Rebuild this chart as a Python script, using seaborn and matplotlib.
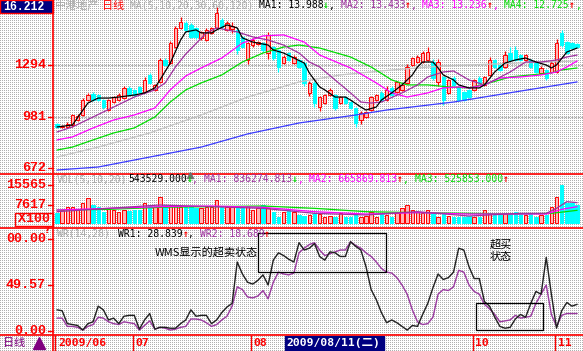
"""
Daily K-line chart with volume and WR panels, Chinese trading-software look
"""
import numpy as np
import matplotlib
matplotlib.use('Agg')
import matplotlib.pyplot as plt
from matplotlib.patches import Rectangle
from matplotlib.transforms import blended_transform_factory
import seaborn as sns

sns.set_style('white')
plt.rcParams['font.family'] = ['DejaVu Sans', 'Noto Sans CJK SC']

# ---------------- data ----------------
month_labels = ['2009/06', '07', '08', '10', '11']
month_start = [0, 15, 38, 81, 97]
cursor_label = '2009/08/11(二)'
cursor_idx = 44

opens = [939, 921, 921, 933, 963, 993, 1083, 1119, 1113, 1083,
         1023, 1071, 1083, 1095, 1155, 1144, 1162, 1132, 1234, 1144,
         1192, 1324, 1306, 1402, 1517, 1547, 1535, 1517, 1457, 1445,
         1487, 1517, 1565, 1505, 1511, 1505, 1463, 1324, 1414, 1420,
         1426, 1366, 1402, 1384, 1306, 1366, 1306, 1324, 1306, 1126,
         1186, 1041, 1065, 1113, 1113, 1065, 1101, 1071, 1035, 963,
         981, 1023, 1083, 1126, 1083, 1156, 1132, 1144, 1186, 1294,
         1312, 1312, 1324, 1312, 1192, 1222, 1126, 1216, 1162, 1132,
         1144, 1144, 1216, 1174, 1234, 1324, 1294, 1282, 1366, 1384,
         1354, 1324, 1324, 1306, 1246, 1264, 1252, 1252, 1487, 1432,
         1426, 1420]
closes = [921, 927, 939, 993, 987, 1083, 1113, 1083, 1083, 1041,
          1083, 1101, 1113, 1155, 1113, 1113, 1132, 1204, 1186, 1174,
          1324, 1294, 1426, 1517, 1553, 1505, 1463, 1463, 1493, 1505,
          1517, 1607, 1523, 1547, 1529, 1384, 1402, 1426, 1445, 1432,
          1384, 1475, 1336, 1282, 1342, 1324, 1342, 1282, 1186, 1186,
          1065, 1101, 1113, 1144, 1035, 1101, 1065, 1035, 945, 1005,
          1011, 1101, 1113, 1083, 1144, 1113, 1192, 1174, 1282, 1336,
          1342, 1366, 1372, 1216, 1312, 1083, 1204, 1174, 1083, 1083,
          1101, 1204, 1186, 1222, 1324, 1282, 1264, 1354, 1324, 1324,
          1324, 1354, 1282, 1252, 1276, 1216, 1306, 1426, 1414, 1366,
          1396, 1402]
highs = [945, 933, 948, 1000, 1000, 1095, 1125, 1130, 1120, 1090,
         1090, 1110, 1125, 1170, 1165, 1150, 1170, 1220, 1245, 1182,
         1336, 1336, 1440, 1530, 1580, 1560, 1545, 1525, 1500, 1515,
         1525, 1640, 1575, 1560, 1555, 1512, 1470, 1435, 1455, 1440,
         1435, 1490, 1410, 1392, 1355, 1375, 1352, 1332, 1315, 1195,
         1195, 1110, 1122, 1155, 1122, 1110, 1110, 1080, 1042, 1015,
         1020, 1110, 1122, 1135, 1168, 1165, 1200, 1182, 1300, 1345,
         1352, 1380, 1400, 1330, 1330, 1230, 1212, 1225, 1170, 1140,
         1152, 1212, 1225, 1230, 1340, 1332, 1302, 1380, 1400, 1410,
         1362, 1362, 1332, 1314, 1285, 1272, 1315, 1450, 1505, 1440,
         1435, 1428]
lows = [912, 915, 918, 921, 955, 987, 1075, 1075, 1075, 1030,
        1015, 1065, 1075, 1090, 1105, 1105, 1125, 1125, 1180, 1138,
        1185, 1285, 1300, 1395, 1510, 1495, 1455, 1450, 1445, 1438,
        1480, 1510, 1515, 1498, 1488, 1360, 1395, 1300, 1405, 1412,
        1375, 1330, 1325, 1252, 1298, 1315, 1298, 1275, 1170, 1110,
        1041, 1020, 1058, 1105, 1025, 1058, 1058, 1028, 920, 940,
        975, 1015, 1075, 1075, 1075, 1105, 1125, 1138, 1180, 1286,
        1305, 1305, 1315, 1205, 1170, 1053, 1118, 1166, 1075, 1075,
        1093, 1136, 1180, 1166, 1228, 1275, 1256, 1275, 1316, 1316,
        1316, 1316, 1275, 1244, 1238, 1205, 1244, 1244, 1405, 1358,
        1388, 1395]

# price moving averages (sampled along the bars)
ma1_idx = [0, 3, 6, 8, 10, 12, 15, 17, 19, 20, 22, 24, 25, 27, 28, 30, 31, 33, 35, 36,
           38, 39, 41, 42, 44, 46, 48, 49, 51, 52, 54, 56, 57, 59, 60, 62, 63, 65, 67, 69,
           70, 71, 73, 74, 75, 77, 78, 80, 82, 83, 85, 87, 89, 91, 93, 95, 96, 97, 99, 101]
ma1_val = [921, 933, 1065, 1095, 1095, 1101, 1113, 1126, 1156, 1204, 1306, 1444, 1493, 1505, 1487,
           1487, 1505, 1535, 1517, 1457, 1432, 1426, 1414, 1384, 1366, 1336, 1306, 1246, 1162, 1144,
           1101, 1101, 1083, 1041, 1023, 1041, 1083, 1126, 1174, 1234, 1282, 1312, 1312, 1276, 1234,
           1204, 1174, 1156, 1156, 1174, 1252, 1306, 1324, 1336, 1312, 1294, 1276, 1294, 1372, 1396]
ma2_idx = [0, 3, 7, 11, 15, 19, 21, 23, 25, 29, 31, 35, 38, 41, 44, 47, 49, 51, 54, 57,
           59, 61, 63, 67, 70, 72, 75, 77, 80, 83, 85, 88, 91, 94, 97, 99, 101]
ma2_val = [891, 921, 981, 1041, 1101, 1144, 1186, 1282, 1360, 1487, 1517, 1493, 1463, 1444, 1414,
           1366, 1312, 1282, 1204, 1126, 1071, 1065, 1071, 1126, 1174, 1222, 1252, 1258, 1204, 1174,
           1204, 1252, 1312, 1312, 1324, 1342, 1354]
ma3_idx = [0, 3, 7, 11, 15, 19, 22, 25, 28, 32, 36, 40, 44, 48, 51, 57, 62, 65, 68, 72,
           75, 78, 80, 83, 86, 90, 94, 97, 99, 101]
ma3_val = [843, 861, 915, 963, 993, 1035, 1144, 1228, 1276, 1336, 1426, 1469, 1475, 1432, 1354,
           1276, 1186, 1126, 1101, 1126, 1156, 1162, 1156, 1174, 1216, 1222, 1234, 1252, 1282, 1318]
ma4_idx = [0, 3, 7, 11, 15, 19, 22, 25, 28, 32, 36, 40, 44, 47, 51, 57, 61, 65, 68, 72,
           76, 80, 84, 88, 92, 96, 98, 101]
ma4_val = [782, 800, 843, 885, 915, 981, 1071, 1144, 1186, 1234, 1312, 1366, 1402, 1414, 1396,
           1342, 1282, 1204, 1174, 1174, 1162, 1156, 1186, 1222, 1234, 1246, 1264, 1276]
ma5_idx = [0, 8, 18, 28, 37, 47, 55, 65, 75, 85, 95, 101]
ma5_val = [740, 800, 885, 993, 1101, 1192, 1234, 1264, 1288, 1300, 1312, 1318]
ma6_idx = [0, 8, 18, 28, 37, 47, 58, 64, 77, 89, 101]
ma6_val = [662, 680, 740, 800, 879, 945, 993, 1023, 1071, 1132, 1192]

# volume (x100)
volume = [3982, 5356, 6730, 6600, 5356, 8104, 10162, 7416, 6730, 4669,
          5631, 5356, 4669, 5356, 4750, 5356, 5200, 8104, 7416, 6730,
          10850, 7416, 7300, 7500, 6730, 6600, 6800, 6043, 6100, 6730,
          6650, 9476, 6730, 6455, 6730, 6043, 6730, 6800, 5356, 6043,
          7416, 6043, 4669, 2609, 4669, 5356, 4669, 3296, 2700, 3296,
          3982, 3900, 2609, 2750, 2500, 3982, 2650, 2550, 3982, 2609,
          2700, 4669, 2609, 3982, 3296, 2609, 3982, 6043, 7416, 5356,
          4669, 3982, 5356, 3982, 2609, 3982, 2700, 2550, 2650, 2600,
          2750, 2500, 2609, 5356, 3982, 3296, 3350, 3982, 3900, 4669,
          3982, 3296, 3982, 2609, 3296, 3250, 6730, 10850, 15656, 8104,
          8104, 7416]
vma1_idx = [0, 10, 20, 30, 40, 50, 60, 70, 80, 90, 95, 97, 99, 101]
vma1_val = [4669, 6043, 7416, 6730, 6043, 3982, 3296, 4669, 2884, 3982, 3982, 6043, 8790, 8381]
vma2_idx = [0, 10, 20, 30, 40, 50, 60, 70, 80, 90, 95, 98, 101]
vma2_val = [5356, 6043, 6730, 7004, 6455, 4669, 3708, 4257, 3708, 3708, 3708, 5631, 6730]
vma3_idx = [0, 10, 20, 30, 40, 50, 60, 70, 80, 90, 96, 101]
vma3_val = [5356, 5631, 6455, 6730, 7004, 6043, 4669, 4257, 3982, 3708, 3982, 5219]

# WR(14,28)
wr1 = [23, 22, 8, 7, 6, 1, 8, 10, 27, 23,
       12, 14, 8, 16, 17, 17, 2, 12, 19, 2,
       4, 4, 3, 3, 8, 12, 23, 16, 17, 17,
       8, 12, 20, 26, 30, 75, 62, 53, 51, 55,
       61, 50, 77, 85, 82, 78, 75, 96, 88, 90,
       95, 81, 77, 86, 85, 81, 81, 97, 92, 88,
       70, 45, 34, 20, 9, 12, 9, 5, 1, 6,
       5, 18, 30, 47, 62, 56, 58, 64, 90, 88,
       70, 57, 57, 32, 27, 15, 5, 3, 4, 13,
       18, 15, 30, 43, 40, 80, 40, 3, 22, 31,
       27, 29]
wr2 = [14, 14, 5, 5, 4, 1, 5, 7, 15, 14,
       10, 8, 7, 10, 9, 8, 1, 6, 11, 2,
       4, 3, 1, 2, 4, 5, 13, 13, 12, 9,
       5, 7, 12, 16, 27, 48, 45, 37, 36, 38,
       44, 35, 53, 64, 62, 61, 63, 85, 90, 94,
       96, 88, 82, 84, 86, 88, 88, 97, 93, 90,
       85, 81, 75, 68, 64, 63, 58, 50, 40, 23,
       10, 7, 8, 15, 40, 45, 44, 48, 66, 64,
       50, 43, 40, 29, 24, 18, 10, 11, 12, 17,
       14, 15, 16, 30, 40, 50, 18, 5, 17, 19,
       19, 19]

price_ticks = [1294, 981, 672]
vol_ticks = [15565, 7617]
wr_ticks = [100, 49.57, 0]
wr_tick_labels = ['00.00', '49.57', '0.00']

# annotation boxes on the WR panel: (first bar, last bar, low WR, high WR)
wr_boxes = [(39.0, 63.9, 64.1, 106.5), (81.4, 94.4, 1.1, 30.4)]

# ---------------- colours / fonts ----------------
RED, CYAN, NAVY = '#ff0000', '#00ffff', '#000080'
PURPLE, MAGENTA, GREEN = '#a030a0', '#ff00ff', '#00dd00'
GRAY_TXT = '#a8a8a8'
MONO = 'DejaVu Sans Mono'
CJK = ['Noto Sans CJK SC', 'DejaVu Sans']
CW = 5.85  # char width (px) of 7pt mono

W, H = 583, 351
fig = plt.figure(figsize=(W / 100, H / 100), dpi=100)

# dotted background like the software screen
bg = np.full((H, W, 3), 255, dtype=np.uint8)
bg[::2, ::2] = 176
fig.figimage(bg, 0, 0, zorder=-10)


def rect(x0, y0, x1, y1):
    return [x0 / W, 1 - y1 / H, (x1 - x0) / W, (y1 - y0) / H]


ax_p = fig.add_axes(rect(53.5, 0, 583, 173.5))
ax_v = fig.add_axes(rect(53.5, 173.5, 583, 227.5))
ax_w = fig.add_axes(rect(53.5, 227.5, 583, 335))
ax_d = fig.add_axes(rect(53.5, 335, 583, 351))
ax_o = fig.add_axes([0, 0, 1, 1])
ax_o.set_xlim(0, W)
ax_o.set_ylim(H, 0)
ax_o.set_zorder(5)

x = np.arange(len(closes))
o, c = np.array(opens), np.array(closes)
up = c >= o

# ---- price panel ----
for ax in (ax_p, ax_v, ax_w, ax_d):
    ax.set_xlim(-0.68, 102.14)
ax_p.set_ylim(641, 1685)
for t in price_ticks[:2]:
    ax_p.axhline(t, color='#b0b0b0', lw=0.8, ls=(0, (2, 1)), zorder=1)

wick_col = np.where(up, RED, CYAN)
ax_p.vlines(x, lows, highs, colors=wick_col, lw=0.9, zorder=3)
body_bot = np.minimum(o, c)
body_h = np.maximum(np.abs(c - o), 4)
ax_p.bar(x, body_h, bottom=body_bot, width=0.66,
         color=np.where(up, '#ffb4b4', CYAN), edgecolor=wick_col, lw=0.7, zorder=4)

for idx, val, col in [(ma6_idx, ma6_val, '#3a3aff'), (ma5_idx, ma5_val, '#c4c4c4'),
                      (ma4_idx, ma4_val, GREEN), (ma3_idx, ma3_val, MAGENTA),
                      (ma2_idx, ma2_val, PURPLE), (ma1_idx, ma1_val, '#000000')]:
    sns.lineplot(x=idx, y=val, ax=ax_p, color=col, linewidth=0.9, zorder=5)

# ---- volume panel ----
ax_v.set_ylim(-1854, 20394)
ax_v.bar(x, volume, width=0.66, color=np.where(up, '#ffb4b4', CYAN),
         edgecolor=wick_col, lw=0.7, zorder=3)
for idx, val, col in [(vma3_idx, vma3_val, GREEN), (vma2_idx, vma2_val, MAGENTA),
                      (vma1_idx, vma1_val, PURPLE)]:
    sns.lineplot(x=idx, y=val, ax=ax_v, color=col, linewidth=0.9, zorder=4)

# ---- WR panel ----
ax_w.set_ylim(-4.35, 112.5)
sns.lineplot(x=x, y=wr2, ax=ax_w, color='#9a3aa0', linewidth=1.0, zorder=3)
sns.lineplot(x=x, y=wr1, ax=ax_w, color='#202020', linewidth=1.0, zorder=4)
for x0, x1, y0, y1 in wr_boxes:
    ax_w.add_patch(Rectangle((x0, y0), x1 - x0, y1 - y0, fill=False,
                             edgecolor='black', lw=0.9, zorder=5))
ax_w.text(19.0, 86, 'WMS显示的超卖状态', family=CJK, size=8,
          va='center', ha='left', color='black')
ax_w.text(86.2, 87, '超买\n状态', family=CJK, size=8, va='center', ha='center',
          color='black', linespacing=1.25)

# ---- date bar ----
ax_d.set_ylim(0, 1)
ax_d.vlines([m - 0.3 for m in month_start], 0, 1, colors=RED, lw=1)
for m, lab in zip(month_start, month_labels):
    ax_d.text(m + 0.2, 0.5, lab, color=RED, family=MONO, weight='bold', size=8.2,
              va='center', ha='left')
ax_d.add_patch(Rectangle((cursor_idx + 0.27, 0.0625), 19.2, 0.875, color=NAVY, zorder=3))
ax_d.text(cursor_idx + 0.6, 0.5, cursor_label, color='white', weight='bold', size=8.2,
          family=[MONO, 'Noto Sans CJK SC'], va='center', ha='left', zorder=4)

for ax in (ax_p, ax_v, ax_w, ax_d, ax_o):
    ax.set_axis_off()


# ---- left scale labels ----
def scale_label(ax, val, txt):
    tr = blended_transform_factory(fig.transFigure, ax.transData)
    ax.text(46 / W, val, txt, transform=tr, ha='right', va='center', color=RED,
            family='Liberation Mono', weight='bold', size=9.6, clip_on=False)
    ax.plot([48 / W, 53 / W], [val, val], transform=tr, color=RED, lw=1, clip_on=False)


for t in price_ticks:
    scale_label(ax_p, t, str(t))
for t in vol_ticks:
    scale_label(ax_v, t, str(t))
for t, lab in zip(wr_ticks, wr_tick_labels):
    scale_label(ax_w, t, lab)

# frame lines
ax_o.plot([53, 53], [0, H], color=RED, lw=1.2)
for yy in (173.5, 227.5, 335):
    ax_o.plot([0, W], [yy, yy], color=RED, lw=1.2)
ax_o.add_patch(Rectangle((0, 0), 53, 13, facecolor=NAVY, edgecolor=RED, lw=1))
ax_o.text(3, 6.8, '16.212', color='white', family='Liberation Mono', weight='bold',
          size=8.3, va='center', ha='left')
ax_o.add_patch(Rectangle((15, 213), 38, 12.5, fill=False, edgecolor=RED, lw=1))
ax_o.text(34, 219.5, 'X100', color=RED, family='Liberation Mono', weight='bold',
          size=9.6, va='center', ha='center')
ax_o.text(47, 230.5, '?', color=RED, weight='bold', size=6, va='center', ha='center')
ax_o.text(3, 343, '日线', color='#800080', family=CJK, size=8, va='center', ha='left')
ax_o.plot(39, 343, marker='^', ms=9, color='#800080', mec='#800080')
ax_o.plot(190, 175, marker='^', ms=4, color='#707070')


# ---- header texts ----
def header(x0, y, parts):
    xx = x0
    for txt, col in parts:
        ax_o.text(xx, y, txt, color=col, family=MONO, size=7, va='center', ha='left',
                  weight='bold' if txt in ('↑', '↓') else 'normal')
        xx += len(txt) * CW


ax_o.text(55, 5.5, '中港地产', color=GRAY_TXT, family=CJK, size=8, va='center')
ax_o.text(102, 5.5, '日线', color=RED, family=CJK, size=8, va='center')
header(130, 5.5, [('MA(5,10,20,30,60,120) ', GRAY_TXT), ('MA1: 13.988', 'black'),
                  ('↓', GREEN), (', ', 'black'), ('MA2: 13.433', PURPLE), ('↑', RED),
                  (', ', PURPLE), ('MA3: 13.236', MAGENTA), ('↑', RED), (', ', MAGENTA),
                  ('MA4: 12.725', GREEN), ('↑', RED), (',', GREEN)])
header(57, 179.5, [('VOL(5,10,20)', GRAY_TXT)])
header(128, 179.5, [('543529.000', 'black'), ('↓', GREEN), (', ', PURPLE),
                    ('MA1: 836274.813', PURPLE), ('↓', GREEN), (', ', MAGENTA),
                    ('MA2: 665869.813', MAGENTA), ('↑', RED), (', ', GREEN),
                    ('MA3: 525853.000', GREEN), ('↑', RED)])
header(57, 234, [('WR(14,28)', GRAY_TXT)])
header(118, 234, [('WR1: 28.839', 'black'), ('↑', RED), (', ', 'black'),
                  ('WR2: 18.689', PURPLE), ('↑', RED)])

fig.savefig('out.png', dpi=100)
